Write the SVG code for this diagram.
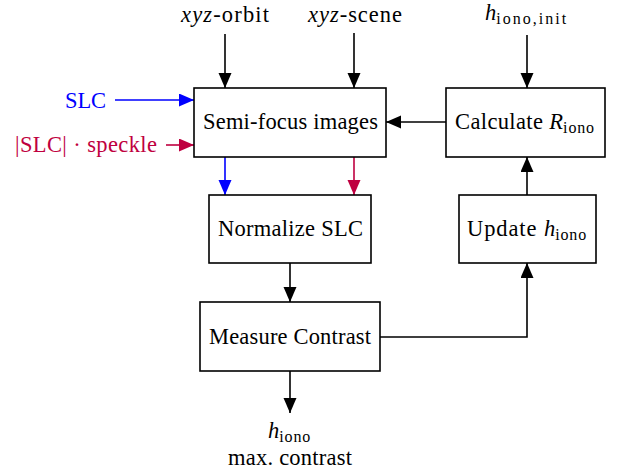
<svg xmlns="http://www.w3.org/2000/svg" width="617" height="474" viewBox="0 0 617 474">
<style>
text{font-family:"Liberation Serif","DejaVu Serif",serif;font-size:22.5px;fill:#000}
.c{text-anchor:middle}
.i{font-style:italic}
.s{font-size:16px}
.box{fill:#fff;stroke:#000;stroke-width:1.6}
.ln{fill:none;stroke:#000;stroke-width:1.6}
.bl{stroke:#0000ff}
.pu{stroke:#bf0040}
</style>
<defs>
<marker id="ak" markerUnits="userSpaceOnUse" markerWidth="16" markerHeight="14" refX="15" refY="6.5" orient="auto"><path d="M0,0 L15,6.5 L0,13 z" fill="#000"/></marker>
<marker id="ab" markerUnits="userSpaceOnUse" markerWidth="16" markerHeight="14" refX="15" refY="6.5" orient="auto"><path d="M0,0 L15,6.5 L0,13 z" fill="#0000ff"/></marker>
<marker id="ap" markerUnits="userSpaceOnUse" markerWidth="16" markerHeight="14" refX="15" refY="6.5" orient="auto"><path d="M0,0 L15,6.5 L0,13 z" fill="#bf0040"/></marker>
</defs>
<g id="connectors">
<line class="ln" x1="225" y1="34" x2="225" y2="88" marker-end="url(#ak)"/>
<line class="ln" x1="354" y1="33" x2="354" y2="88" marker-end="url(#ak)"/>
<line class="ln" x1="527" y1="35" x2="527" y2="88" marker-end="url(#ak)"/>
<line class="ln bl" x1="115" y1="100" x2="194" y2="100" marker-end="url(#ab)"/>
<line class="ln pu" x1="166" y1="145" x2="194" y2="145" marker-end="url(#ap)"/>
<line class="ln" x1="446" y1="122" x2="386" y2="122" marker-end="url(#ak)"/>
<line class="ln bl" x1="225" y1="157" x2="225" y2="195" marker-end="url(#ab)"/>
<line class="ln pu" x1="354" y1="157" x2="354" y2="195" marker-end="url(#ap)"/>
<line class="ln" x1="290" y1="263" x2="290" y2="302" marker-end="url(#ak)"/>
<line class="ln" x1="290" y1="371" x2="290" y2="413" marker-end="url(#ak)"/>
<polyline class="ln" points="380,337 527,337 527,263" marker-end="url(#ak)"/>
<line class="ln" x1="527" y1="195" x2="527" y2="157" marker-end="url(#ak)"/>
</g>
<g id="in-orbit"><text x="181" y="22" textLength="88" lengthAdjust="spacing"><tspan class="i">xyz</tspan>-orbit</text></g>
<g id="in-scene"><text x="308" y="22" textLength="94" lengthAdjust="spacing"><tspan class="i">xyz</tspan>-scene</text></g>
<g id="in-hinit"><text x="485" y="20"><tspan class="i">h</tspan><tspan class="s" dy="4" textLength="70" lengthAdjust="spacing">iono,init</tspan></text></g>
<g id="in-slc"><text x="65" y="108" textLength="41" lengthAdjust="spacing" style="fill:#0000ff">SLC</text></g>
<g id="in-speckle"><text x="15" y="152" textLength="142" lengthAdjust="spacing" style="fill:#bf0040">|SLC| · speckle</text></g>
<g id="semi"><rect class="box" x="194" y="88" width="192" height="69"/><text x="203" y="129" textLength="175" lengthAdjust="spacing">Semi-focus images</text></g>
<g id="calc"><rect class="box" x="446" y="88" width="159" height="69"/><text x="455" y="129"><tspan textLength="94" lengthAdjust="spacing">Calculate </tspan><tspan class="i">R</tspan><tspan class="s" dy="4" textLength="31" lengthAdjust="spacing">iono</tspan></text></g>
<g id="norm"><rect class="box" x="209" y="195" width="162" height="68"/><text x="218" y="236" textLength="145" lengthAdjust="spacing">Normalize SLC</text></g>
<g id="update"><rect class="box" x="459" y="195" width="137" height="68"/><text x="467" y="236"><tspan textLength="76" lengthAdjust="spacing">Update </tspan><tspan class="i">h</tspan><tspan class="s" dy="4" textLength="31" lengthAdjust="spacing">iono</tspan></text></g>
<g id="measure"><rect class="box" x="200" y="302" width="180" height="69"/><text x="209" y="344" textLength="162" lengthAdjust="spacing">Measure Contrast</text></g>
<g id="out"><text x="268" y="438"><tspan class="i">h</tspan><tspan class="s" dy="4" textLength="31" lengthAdjust="spacing">iono</tspan></text><text x="228" y="465" textLength="124" lengthAdjust="spacing">max. contrast</text></g>
</svg>
